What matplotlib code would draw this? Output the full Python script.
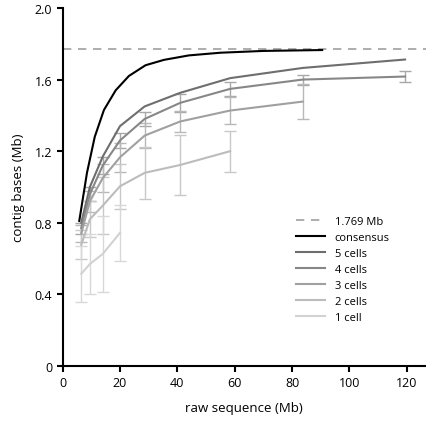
import numpy as np
import matplotlib
matplotlib.use("Agg")
import matplotlib.pyplot as plt

plt.rcParams['font.family'] = ['Open Sans', 'DejaVu Sans']

# raw sequence (Mb) at each subsampling step
x_cells = [6.5, 9.5, 14.0, 20.0, 28.6, 41.0, 58.4, 83.7, 119.4]
x_consensus = [5.8, 8.5, 11.2, 14.4, 18.5, 23.1, 28.9, 35.3, 44.0, 55.0, 70.0, 90.5]
y_consensus = [0.81, 1.08, 1.28, 1.43, 1.54, 1.62, 1.68, 1.71, 1.735, 1.75, 1.76, 1.765]

cells5 = [0.80, 1.00, 1.17, 1.34, 1.45, 1.526, 1.608, 1.665, 1.712]
cells4 = [0.77, 0.96, 1.12, 1.26, 1.38, 1.47, 1.548, 1.60, 1.617]
cells4_err = [0.03, 0.04, 0.05, 0.04, 0.04, 0.05, 0.04, 0.028, 0.03]
cells3 = [0.74, 0.92, 1.05, 1.166, 1.287, 1.366, 1.427, 1.477]
cells3_err = [0.05, 0.06, 0.08, 0.08, 0.07, 0.06, 0.075, 0.10]
cells2 = [0.677, 0.82, 0.896, 1.004, 1.079, 1.123, 1.20]
cells2_err = [0.08, 0.10, 0.16, 0.125, 0.145, 0.165, 0.115]
cells1 = [0.515, 0.57, 0.626, 0.744]
cells1_err = [0.155, 0.17, 0.21, 0.155]

genome_size = 1.769

fig = plt.figure(figsize=(4.26, 4.27), dpi=100)
ax = fig.add_axes([0.147, 0.1405, 0.853, 0.8385])

ax.axhline(genome_size, color='#a0a0a0', lw=1.2, ls=(0, (5, 4)), label='1.769 Mb')
ax.plot(x_consensus, y_consensus, color='black', lw=1.5, label='consensus')
ax.plot(x_cells, cells5, color='#6e6e6e', lw=1.5, label='5 cells')

series = [
    (cells4, cells4_err, '#878787', '#a8a8a8', '4 cells'),
    (cells3, cells3_err, '#a0a0a0', '#b8b8b8', '3 cells'),
    (cells2, cells2_err, '#bcbcbc', '#c8c8c8', '2 cells'),
    (cells1, cells1_err, '#d2d2d2', '#d8d8d8', '1 cell'),
]
for vals, err, col, ecol, lab in series:
    xs = x_cells[:len(vals)]
    ax.errorbar(xs, vals, yerr=err, fmt='none', ecolor=ecol, elinewidth=1.0,
                capsize=4, capthick=1.0, zorder=1)
    ax.plot(xs, vals, color=col, lw=1.5, label=lab, zorder=2)

ax.set_xlim(0, 126.7)
ax.set_ylim(0, 2.0)
ax.set_xticks([0, 20, 40, 60, 80, 100, 120])
ax.set_yticks([0, 0.4, 0.8, 1.2, 1.6, 2.0])
ax.set_yticklabels(['0', '0.4', '0.8', '1.2', '1.6', '2.0'])
ax.set_xlabel('raw sequence (Mb)', fontsize=9.5, labelpad=8)
ax.set_ylabel('contig bases (Mb)', fontsize=9.5, labelpad=7)

for s in ['top', 'right']:
    ax.spines[s].set_visible(False)
for s in ['left', 'bottom']:
    ax.spines[s].set_linewidth(1.5)
ax.tick_params(direction='out', length=4, width=1.5, labelsize=9)

leg = ax.legend(loc='upper left', bbox_to_anchor=(0.642, 0.42), frameon=False,
                fontsize=8, handlelength=2.6, handletextpad=0.9,
                labelspacing=0.45, borderpad=0, borderaxespad=0)

fig.savefig('out.png', dpi=100)
